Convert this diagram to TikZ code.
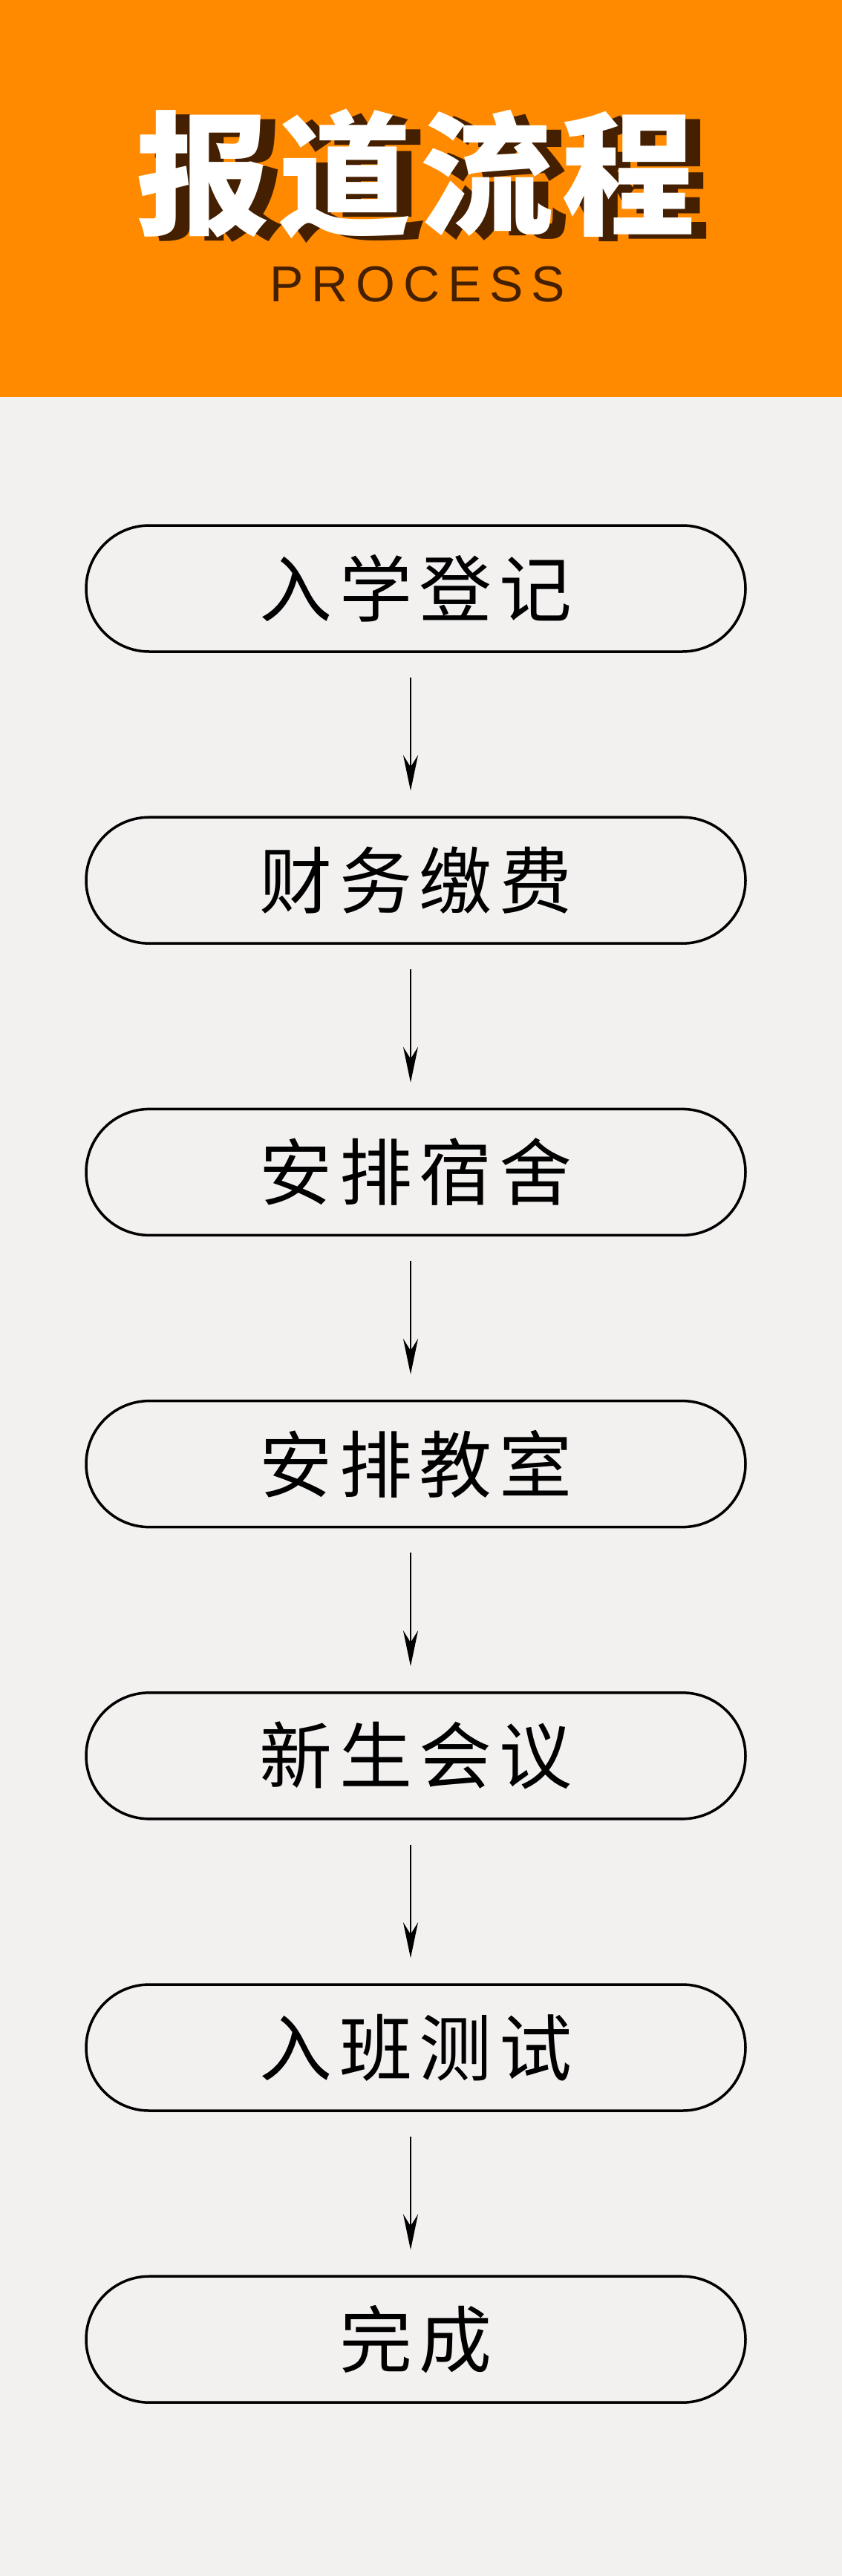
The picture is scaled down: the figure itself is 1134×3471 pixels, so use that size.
\documentclass[tikz,border=0pt]{standalone}
\usepackage{fontspec}
\usetikzlibrary{arrows.meta}
\newfontfamily\cjk[LetterSpace=10]{Noto Sans CJK SC}
\newfontfamily\cjktitle[LetterSpace=6]{Noto Sans CJK SC}
\newfontfamily\latinsp[LetterSpace=16]{Liberation Sans}
\definecolor{bg}{HTML}{F3F0F0}
\definecolor{org}{HTML}{FF8A00}
\definecolor{shadow}{HTML}{452000}
\tikzset{
  stepbox/.style={draw=black,line width=3.5pt,rounded corners=85pt,minimum width=888pt,minimum height=170pt,inner sep=0pt,font=\cjk\fontsize{98}{98}\selectfont},
  flowarrow/.style={line width=2.5pt,-{Stealth[length=48pt,width=20pt,inset=16pt]}}
}
\begin{document}
\begin{tikzpicture}[x=1pt,y=-1pt]
\useasboundingbox (0,0) rectangle (1134,3471);
\fill[bg] (0,0) rectangle (1134,3471);
\fill[org] (0,0) rectangle (1134,535);
\node[text=shadow,font=\cjktitle\bfseries\fontsize{180}{180}\selectfont] (tshadow) at (580,240) {报道流程};
\node[text=white,font=\cjktitle\bfseries\fontsize{180}{180}\selectfont] (title) at (560,234) {报道流程};
\node[text=shadow,font=\latinsp\fontsize{68}{68}\selectfont] (sub) at (562,383) {PROCESS};
\foreach \i/\t in {1/入学登记,2/财务缴费,3/安排宿舍,4/安排教室,5/新生会议,6/入班测试,7/完成}{
  \node[stepbox] (b\i) at (560,{793+(\i-1)*393.2}) {\t};
}
\foreach \i [evaluate=\i as \j using int(\i+1)] in {1,...,6}{
  \draw[flowarrow] ([xshift=-7pt,yshift=-33pt]b\i.south) -- ([xshift=-7pt,yshift=34pt]b\j.north);
}
\end{tikzpicture}
\end{document}
